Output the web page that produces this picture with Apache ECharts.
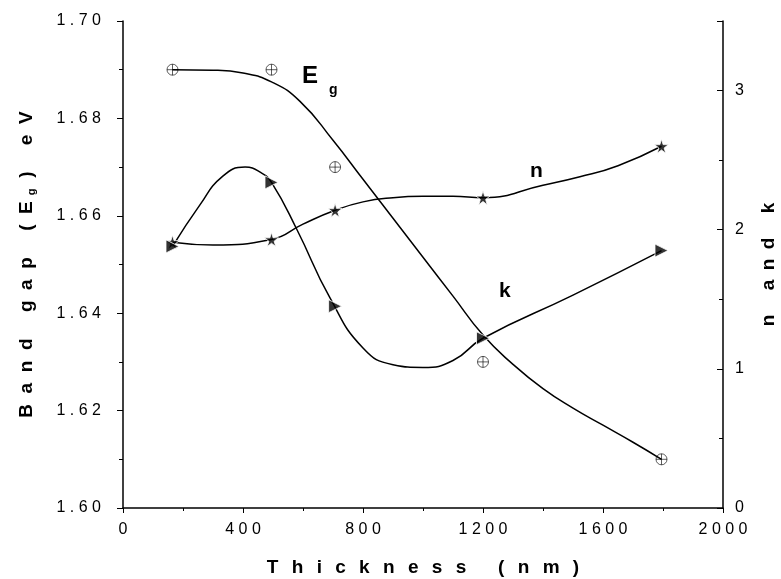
<!DOCTYPE html>
<html>
<head>
<meta charset="utf-8">
<script src="https://cdn.jsdelivr.net/npm/echarts@6/dist/echarts.min.js"></script>
<style>
  html, body { margin: 0; padding: 0; background: #fff; }
  #main { width: 781px; height: 579px; }
</style>
</head>
<body>
<div id="main"></div>
<script>
var chartDom = document.getElementById('main');
var myChart = echarts.init(chartDom);
var option;

// measured points
let thickness = [165, 495, 707, 1200, 1795];
let bandGap = [1.690, 1.690, 1.670, 1.630, 1.610];
let nValues = [1.91, 1.93, 2.14, 2.23, 2.60];
let kValues = [1.88, 2.34, 1.45, 1.22, 1.85];

// fitted curves
let egFitX = [165, 300, 400, 495, 590, 700, 800, 900, 1000, 1100, 1200, 1300, 1400, 1500, 1600, 1700, 1795];
let egFitY = [1.690, 1.6899, 1.6893, 1.6875, 1.6835, 1.6755, 1.6675, 1.6595, 1.6515, 1.6435, 1.6355, 1.6295, 1.6245, 1.6205, 1.617, 1.6135, 1.610];
let nFitX = [165, 300, 495, 600, 707, 800, 900, 1000, 1100, 1200, 1400, 1523, 1650, 1795];
let nFitY = [1.91, 1.89, 1.93, 2.04, 2.14, 2.20, 2.23, 2.24, 2.24, 2.23, 2.32, 2.38, 2.46, 2.60];
let kFitX = [165, 257, 330, 407, 460, 495, 580, 690, 800, 900, 1000, 1100, 1200, 1500, 1795];
let kFitY = [1.88, 2.18, 2.38, 2.45, 2.41, 2.34, 2.00, 1.51, 1.15, 1.03, 1.01, 1.06, 1.22, 1.53, 1.85];

function spaced(s, gap) {
    return s.split('').join(gap || ' ');
}

function pairs(xs, ys) {
    return xs.map(function(x, i) { return [x, ys[i]]; });
}

let circlePlus = 'path://M0,10 A10,10 0 1,1 20,10 A10,10 0 1,1 0,10 Z M10,0 L10,20 M0,10 L20,10';
let star = 'path://M50,0 L61,35 L98,35 L68,57 L79,91 L50,70 L21,91 L32,57 L2,35 L39,35 Z';
let rightTri = 'path://M0,0 L10,5 L0,10 Z';

let font = 'Liberation Sans';
let tickLabel = { color: '#000', fontFamily: font, fontSize: 16 };
let axisLine = { show: true, lineStyle: { color: '#000', width: 1.5 } };
let titleGap = '  ';

option = {
    animation: false,
    backgroundColor: '#fff',
    grid: { left: 123, right: 58, top: 21, bottom: 71, outerBoundsMode: 'none', containLabel: false },
    xAxis: {
        type: 'value',
        min: 0,
        max: 2000,
        interval: 400,
        name: spaced('Thickness (nm)', '\u2002\u2009'),
        nameLocation: 'middle',
        nameGap: 50,
        nameTextStyle: { color: '#000', fontFamily: font, fontSize: 19, fontWeight: 'bold' },
        axisLine: axisLine,
        axisTick: { show: true, length: 5, lineStyle: { color: '#000' } },
        minorTick: { show: true, splitNumber: 2, length: 3, lineStyle: { color: '#000' } },
        splitLine: { show: false },
        axisLabel: Object.assign({ margin: 14, formatter: function(v) { return spaced(String(v)); } }, tickLabel)
    },
    yAxis: [{
        type: 'value',
        min: 1.60,
        max: 1.70,
        interval: 0.02,
        name: '{a|' + spaced('Band gap (E', titleGap) + '}{s|  g}{a|  ' + spaced(') eV', titleGap) + '}',
        nameLocation: 'middle',
        nameGap: 86,
        nameTextStyle: {
            rich: {
                a: { color: '#000', fontFamily: font, fontSize: 19, fontWeight: 'bold' },
                s: { color: '#000', fontFamily: font, fontSize: 11, fontWeight: 'bold', verticalAlign: 'bottom', padding: [10, 0, 0, 0] }
            }
        },
        axisLine: axisLine,
        axisTick: { show: true, length: 6, lineStyle: { color: '#000' } },
        minorTick: { show: true, splitNumber: 2, length: 4, lineStyle: { color: '#000' } },
        splitLine: { show: false },
        axisLabel: Object.assign({ margin: 22, formatter: function(v) { return spaced(v.toFixed(2)); } }, tickLabel)
    }, {
        type: 'value',
        min: 0,
        max: 3.5,
        interval: 1,
        position: 'right',
        name: spaced('n and k', '\u2002'),
        nameLocation: 'middle',
        nameGap: 36,
        nameRotate: 90,
        nameTextStyle: { color: '#000', fontFamily: font, fontSize: 19, fontWeight: 'bold', padding: [0, 0, 70, 0] },
        axisLine: axisLine,
        axisTick: { show: true, inside: true, length: 6, lineStyle: { color: '#000' } },
        minorTick: { show: true, splitNumber: 2, length: 4, lineStyle: { color: '#000' } },
        splitLine: { show: false },
        axisLabel: Object.assign({ margin: 12, formatter: function(v) { return v % 1 === 0 ? String(v) : ''; } }, tickLabel)
    }],
    graphic: [
        { type: 'text', left: 302, top: 64, style: { text: 'E', font: 'bold 24px ' + font, fill: '#000' } },
        { type: 'text', left: 329, top: 83, style: { text: 'g', font: 'bold 14px ' + font, fill: '#000' } },
        { type: 'text', left: 530, top: 161, style: { text: 'n', font: 'bold 21px ' + font, fill: '#000' } },
        { type: 'text', left: 499, top: 281, style: { text: 'k', font: 'bold 21px ' + font, fill: '#000' } }
    ],
    series: [{
        name: 'Eg fit',
        type: 'line',
        data: pairs(egFitX, egFitY),
        smooth: true,
        showSymbol: false,
        lineStyle: { color: '#000', width: 1.5 },
        z: 2
    }, {
        name: 'n fit',
        type: 'line',
        yAxisIndex: 1,
        data: pairs(nFitX, nFitY),
        smooth: true,
        showSymbol: false,
        lineStyle: { color: '#000', width: 1.5 },
        z: 2
    }, {
        name: 'k fit',
        type: 'line',
        yAxisIndex: 1,
        data: pairs(kFitX, kFitY),
        smooth: true,
        showSymbol: false,
        lineStyle: { color: '#000', width: 1.5 },
        z: 2
    }, {
        name: 'Eg',
        type: 'scatter',
        data: pairs(thickness, bandGap),
        symbol: circlePlus,
        symbolSize: 11,
        itemStyle: { color: 'rgba(255,255,255,0)', borderColor: '#000', borderWidth: 0.8 },
        z: 4
    }, {
        name: 'n',
        type: 'scatter',
        yAxisIndex: 1,
        data: pairs(thickness, nValues),
        symbol: star,
        symbolSize: 14,
        itemStyle: { color: '#000', borderColor: '#fff', borderWidth: 1 },
        z: 4
    }, {
        name: 'k',
        type: 'scatter',
        yAxisIndex: 1,
        data: pairs(thickness, kValues),
        symbol: rightTri,
        symbolSize: 13,
        itemStyle: { color: '#000', borderColor: '#fff', borderWidth: 1 },
        z: 4
    }]
};

option && myChart.setOption(option);
</script>
</body>
</html>
